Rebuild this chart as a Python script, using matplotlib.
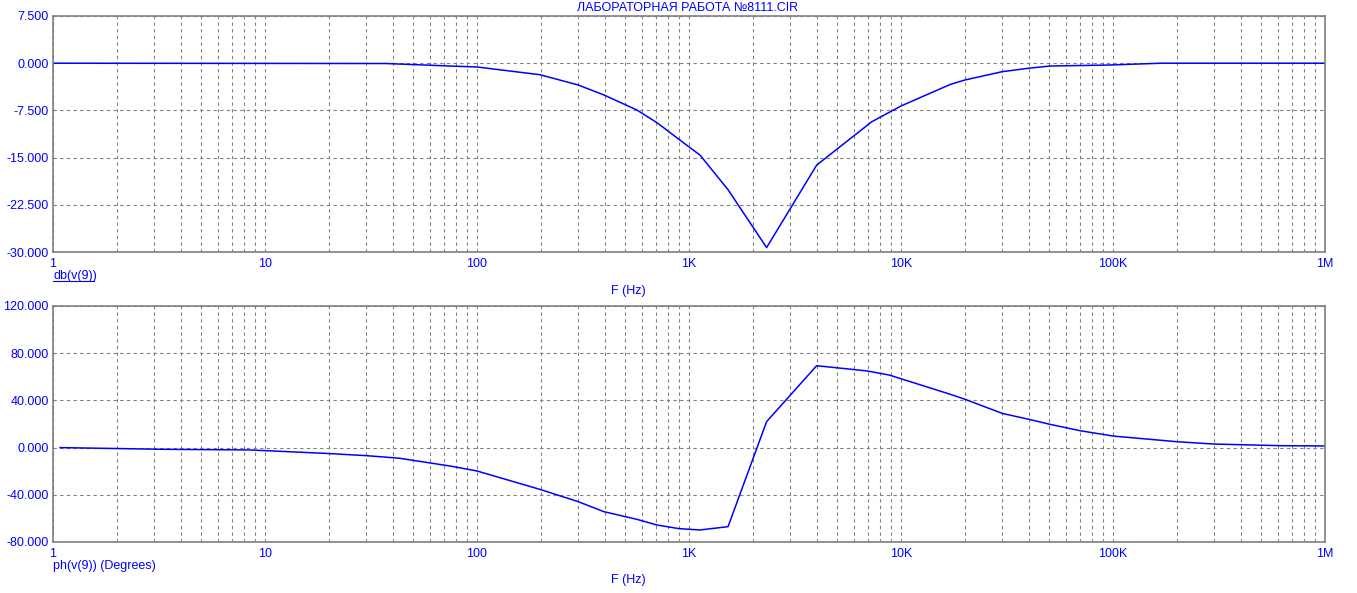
import numpy as np
import matplotlib.pyplot as plt
from matplotlib.ticker import FixedLocator, FuncFormatter, NullFormatter
from matplotlib.lines import Line2D

plt.rcParams['font.family'] = ['Liberation Sans', 'DejaVu Sans']

TITLE = 'ЛАБОРАТОРНАЯ РАБОТА №8111.CIR'

# magnitude, dB
f_db = [1, 36.9, 57.9, 74.6, 100, 198, 300, 397, 568, 706, 1000, 1127, 1528,
        2323, 4000, 7280, 10000, 17000, 20000, 30000, 40000, 50500, 93000,
        170000, 1e6]
db = [0, -0.05, -0.3, -0.45, -0.6, -1.83, -3.46, -5.05, -7.44, -9.45, -13.3,
      -14.6, -20.1, -29.3, -16.2, -9.3, -6.8, -3.4, -2.67, -1.35, -0.8, -0.45,
      -0.3, 0, 0]

# phase, degrees
f_ph = [1.08, 3.2, 8.5, 18.8, 30, 43, 74.6, 100, 198, 300, 397, 568, 706, 900,
        1127, 1528, 2323, 4000, 6900, 8800, 17000, 20000, 30000, 40000, 50500,
        70000, 100000, 200000, 300000, 630000, 1e6]
ph = [0, -1.4, -2, -4.8, -6.8, -9, -15.6, -19.8, -35.4, -45.8, -54.3, -60.8,
      -65.6, -68.7, -69.8, -67, 22, 69.4, 65, 61.5, 45.3, 41, 29, 24, 19.7,
      14.3, 9.8, 5, 3, 1.6, 1.4]

db_ticks = [7.5, 0, -7.5, -15, -22.5, -30]
ph_ticks = [120, 80, 40, 0, -40, -80]
f_major = [1, 10, 100, 1e3, 1e4, 1e5, 1e6]
f_names = ['1', '10', '100', '1K', '10K', '100K', '1M']

BLUE = '#0000FF'
GRAY = '#808080'
W, H = 1357, 593

fig = plt.figure(figsize=(W / 100, H / 100), dpi=100)


def px_ax(x0, y0, x1, y1):
    return fig.add_axes([x0 / W, 1 - y1 / H, (x1 - x0) / W, (y1 - y0) / H])


def setup(ax, yticks):
    ax.set_xscale('log')
    ax.set_xlim(1, 1e6)
    ax.set_ylim(min(yticks), max(yticks))
    ax.set_yticks(yticks)
    ax.yaxis.set_major_formatter(FuncFormatter(lambda v, p: '%.3f' % v))
    ax.xaxis.set_major_locator(FixedLocator(f_major))
    minors = [d * k for d in f_major[:-1] for k in range(2, 10)]
    ax.xaxis.set_minor_locator(FixedLocator(minors))
    ax.xaxis.set_minor_formatter(NullFormatter())
    ax.xaxis.set_major_formatter(FuncFormatter(lambda v, p: f_names[f_major.index(v)] if v in f_major else ''))
    ax.tick_params(which='both', length=0, colors=BLUE, labelsize=9)
    ax.tick_params(axis='x', pad=4)
    ax.tick_params(axis='y', pad=3)
    ax.grid(True, which='both', color=GRAY, linestyle=(0, (3, 3)), linewidth=0.8)
    for s in ax.spines.values():
        s.set_color(GRAY)
        s.set_linewidth(1.2)


ax1 = px_ax(53, 16, 1325, 252)
setup(ax1, db_ticks)
ax1.plot(f_db, db, color=BLUE, lw=1.1)

ax2 = px_ax(53, 306, 1325, 542)
setup(ax2, ph_ticks)
ax2.plot(f_ph, ph, color=BLUE, lw=1.1)

fig.text(688 / W, 1 - 8 / H, TITLE, color=BLUE, fontsize=9, ha='center', va='center')
fig.text(53 / W, 1 - 276 / H, 'db(v(9))', color=BLUE, fontsize=9, ha='left', va='center')
fig.add_artist(Line2D([53 / W, 94 / W], [1 - 281 / H, 1 - 281 / H], color=BLUE, lw=0.8))
fig.text(628 / W, 1 - 291 / H, 'F (Hz)', color=BLUE, fontsize=9, ha='center', va='center')
fig.text(53 / W, 1 - 566 / H, 'ph(v(9)) (Degrees)', color=BLUE, fontsize=9, ha='left', va='center')
fig.text(628 / W, 1 - 580 / H, 'F (Hz)', color=BLUE, fontsize=9, ha='center', va='center')

plt.savefig('out.png', dpi=100, facecolor='white')
